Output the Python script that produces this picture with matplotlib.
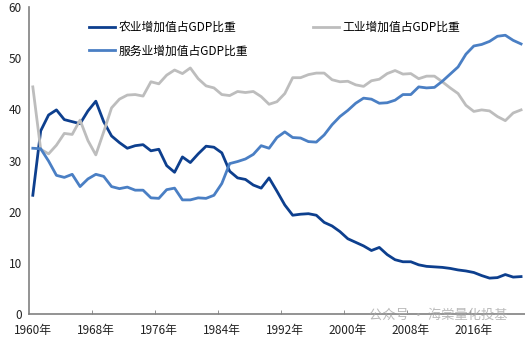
import matplotlib
matplotlib.use("Agg")
import matplotlib.pyplot as plt
from matplotlib.ticker import FixedLocator

plt.rcParams['font.family'] = ['Noto Sans CJK SC', 'DejaVu Sans']

years = list(range(1960, 2023))
agriculture = [23.2, 35.8, 38.9, 39.9, 38.0, 37.6, 37.2, 39.7, 41.6, 37.6,
               34.8, 33.5, 32.4, 32.9, 33.1, 31.9, 32.2, 29.0, 27.7, 30.7,
               29.6, 31.3, 32.8, 32.6, 31.5, 27.9, 26.6, 26.3, 25.2, 24.6,
               26.6, 24.0, 21.3, 19.3, 19.5, 19.6, 19.3, 17.9, 17.2, 16.1,
               14.7, 14.0, 13.3, 12.4, 13.0, 11.6, 10.6, 10.2, 10.2, 9.6,
               9.3, 9.2, 9.1, 8.9, 8.6, 8.4, 8.1, 7.5, 7.0, 7.1,
               7.7, 7.2, 7.3]
industry = [44.4, 32.2, 31.3, 33.0, 35.3, 35.1, 37.9, 33.9, 31.1, 35.6,
            40.3, 42.0, 42.8, 42.9, 42.6, 45.4, 45.0, 46.7, 47.7, 47.0,
            48.1, 46.0, 44.6, 44.2, 42.9, 42.7, 43.5, 43.3, 43.5, 42.5,
            41.0, 41.5, 43.1, 46.2, 46.2, 46.8, 47.1, 47.1, 45.8, 45.4,
            45.5, 44.8, 44.5, 45.6, 45.9, 47.0, 47.6, 46.9, 47.0, 46.0,
            46.5, 46.5, 45.4, 44.2, 43.1, 40.8, 39.6, 39.9, 39.7, 38.6,
            37.8, 39.3, 39.9]
services = [32.4, 32.3, 29.9, 27.1, 26.7, 27.3, 24.9, 26.4, 27.3, 26.9,
            24.9, 24.5, 24.8, 24.2, 24.2, 22.7, 22.6, 24.3, 24.6, 22.3,
            22.3, 22.7, 22.6, 23.2, 25.5, 29.4, 29.8, 30.3, 31.2, 32.9,
            32.4, 34.5, 35.6, 34.5, 34.4, 33.7, 33.6, 35.0, 37.0, 38.6,
            39.8, 41.2, 42.2, 42.0, 41.2, 41.3, 41.8, 42.9, 42.9, 44.4,
            44.2, 44.3, 45.5, 46.9, 48.3, 50.8, 52.4, 52.7, 53.3, 54.3,
            54.5, 53.5, 52.8]

label_years = [1960, 1968, 1976, 1984, 1992, 2000, 2008, 2016]
tick_labels = [f"{y}年" for y in label_years]
yticks = [0, 10, 20, 30, 40, 50, 60]

fig = plt.figure(figsize=(5.25, 3.39), dpi=100)
ax = fig.add_axes([0.055, 0.074, 0.945, 0.905])

l1, = ax.plot(years, agriculture, color='#0D3F8E', lw=2.0, label='农业增加值占GDP比重')
l3, = ax.plot(years, industry, color='#BDBDBD', lw=2.0, label='工业增加值占GDP比重')
l2, = ax.plot(years, services, color='#4A7FC4', lw=2.0, label='服务业增加值占GDP比重')

ax.set_xlim(years[0] - 0.5, years[-1] + 0.5)
ax.set_ylim(0, 60)
ax.set_yticks(yticks)
ax.set_xticks(label_years)
ax.set_xticklabels(tick_labels)
ax.xaxis.set_minor_locator(FixedLocator([y - 0.5 for y in label_years[1:]]))
ax.tick_params(axis='x', which='major', length=0, pad=7, labelsize=8.5, colors='#222222')
ax.tick_params(axis='x', which='minor', length=3, direction='in', color='#808080')
ax.tick_params(axis='y', length=0, pad=5, labelsize=8.5, colors='#222222')

for s in ['top', 'right']:
    ax.spines[s].set_visible(False)
for s in ['left', 'bottom']:
    ax.spines[s].set_color('#808080')
    ax.spines[s].set_linewidth(1.2)

leg = ax.legend(handles=[l1, l2, l3], ncol=2, loc='upper left',
                bbox_to_anchor=(0.1, 0.99), frameon=False, fontsize=8.5,
                handlelength=2.2, handletextpad=0.3, columnspacing=5.5,
                labelspacing=0.9)

fig.text(0.835, 0.07, '公众号 · 海棠量化投基', fontsize=9.5, color='#a8a8a8',
         alpha=0.8, ha='center', va='center')

fig.savefig('out.png', dpi=100)
